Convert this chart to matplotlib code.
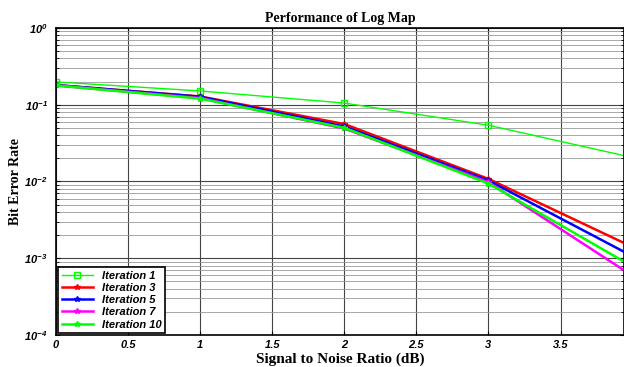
import matplotlib.pyplot as plt
from matplotlib.ticker import LogLocator, FixedLocator
import numpy as np

# SNR points (dB) and BER for each iteration count
snr = [0, 1, 2, 3, 4]
ber_it1 = [0.198, 0.151, 0.105, 0.054, 0.0205]
ber_it3 = [0.180, 0.128, 0.056, 0.0108, 0.0014]
ber_it5 = [0.180, 0.127, 0.052, 0.0103, 0.00106]
ber_it7 = [0.178, 0.122, 0.049, 0.0098, 0.00059]
ber_it10 = [0.178, 0.120, 0.050, 0.0094, 0.00078]

xticks = [0, 0.5, 1, 1.5, 2, 2.5, 3, 3.5]

fig = plt.figure(figsize=(6.24, 3.67), dpi=100)
ax = fig.add_axes([0.0897, 0.087, 0.9103, 0.837])

tickfont = {'family': 'Liberation Sans', 'weight': 'bold', 'style': 'italic', 'size': 8}

ax.semilogy(snr, ber_it1, color='#00ff00', lw=1.0, marker='s', ms=4, mfc='none', mec='#00ff00', label='Iteration 1')
ax.semilogy(snr, ber_it3, color='red', lw=1.8, marker='*', ms=4, label='Iteration 3')
ax.semilogy(snr, ber_it5, color='blue', lw=1.8, marker='*', ms=4, label='Iteration 5')
ax.semilogy(snr, ber_it7, color='magenta', lw=1.8, marker='*', ms=4, label='Iteration 7')
ax.semilogy(snr, ber_it10, color='#00ff00', lw=1.8, marker='*', ms=4, label='Iteration 10')

ax.set_xlim(0, 3.94)
ax.set_ylim(1e-4, 1)
ax.xaxis.set_major_locator(FixedLocator(xticks))
ax.set_xticklabels([f'{t:g}' for t in xticks], fontdict=tickfont)
ax.yaxis.set_major_locator(LogLocator(base=10, numticks=10))
ax.yaxis.set_minor_locator(LogLocator(base=10, subs=np.arange(2, 10), numticks=10))
ax.tick_params(axis='both', which='both', direction='in', length=3, top=True, right=True)
ax.tick_params(axis='y', which='minor', length=2)
ax.tick_params(axis='y', pad=6)
for lab in ax.get_yticklabels():
    lab.set_family('Liberation Sans')
    lab.set_weight('bold')
    lab.set_style('italic')
    lab.set_size(8)

ax.grid(True, which='major', color='#444444', lw=0.8)
ax.grid(True, which='minor', axis='y', color='#999999', lw=0.6)
for s in ax.spines.values():
    s.set_linewidth(1.2)

ax.set_title('Performance of Log Map', family='Liberation Serif', weight='bold', size=10, pad=4)
ax.set_xlabel('Signal to Noise Ratio (dB)', family='Liberation Serif', weight='bold', size=11, labelpad=2)
ax.set_ylabel('Bit Error Rate', family='Liberation Serif', weight='bold', size=10, labelpad=2)

leg = ax.legend(loc='lower left', prop={'family': 'Liberation Sans', 'weight': 'bold', 'style': 'italic', 'size': 8},
                fancybox=False, edgecolor='black', framealpha=1, borderpad=0.3, labelspacing=0.2,
                handlelength=2.8, borderaxespad=0.2)
leg.get_frame().set_linewidth(1.2)

fig.savefig('out.png', dpi=100)
